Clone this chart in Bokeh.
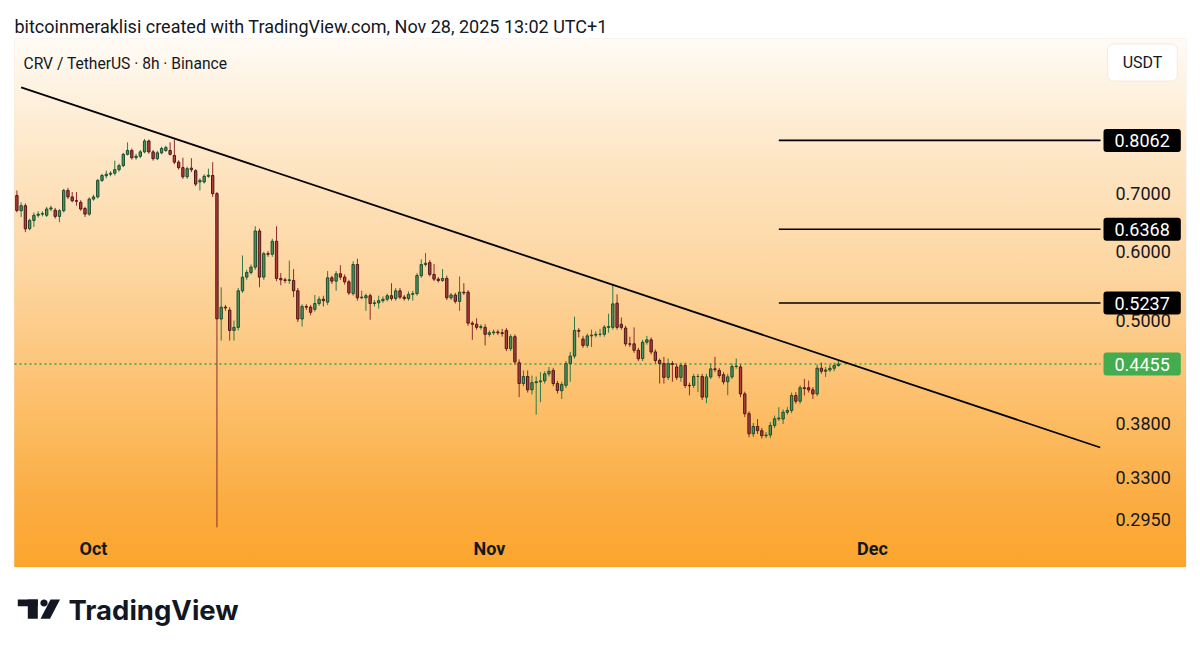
import numpy as np
import pandas as pd
from bokeh.plotting import figure
from bokeh.models import (ColumnDataSource, Range1d, LogScale, Label, BoxAnnotation, PolyAnnotation)
from bokeh.embed import file_html
from bokeh.resources import INLINE

# ---------------- data (CRV/USDT, 8h candles, Binance) ----------------
first_candle = "2025-09-25 00:00"
open_ = [0.6966, 0.669, 0.678, 0.638, 0.652, 0.661, 0.663, 0.661, 0.672, 0.670,
         0.659, 0.669, 0.706, 0.694, 0.687, 0.684, 0.673, 0.663, 0.690, 0.694,
         0.725, 0.734, 0.737, 0.739, 0.746, 0.754, 0.777, 0.785, 0.770, 0.773,
         0.782, 0.805, 0.782, 0.768, 0.780, 0.785, 0.785, 0.7746, 0.761, 0.750,
         0.732, 0.749, 0.744, 0.722, 0.722, 0.733, 0.7345, 0.700, 0.502, 0.518,
         0.514, 0.487, 0.491, 0.541, 0.561, 0.568, 0.576, 0.634, 0.561, 0.597,
         0.596, 0.617, 0.559, 0.557, 0.556, 0.556, 0.541, 0.502, 0.519, 0.518,
         0.515, 0.523, 0.529, 0.525, 0.560, 0.555, 0.566, 0.561, 0.554, 0.537,
         0.580, 0.531, 0.531, 0.534, 0.523, 0.524, 0.527, 0.529, 0.534, 0.530,
         0.541, 0.532, 0.530, 0.536, 0.537, 0.563, 0.580, 0.583, 0.565, 0.558,
         0.556, 0.559, 0.531, 0.535, 0.526, 0.539, 0.539, 0.4965, 0.495, 0.491,
         0.491, 0.482, 0.484, 0.485, 0.484, 0.487, 0.464, 0.479, 0.447, 0.423,
         0.431, 0.416, 0.424, 0.425, 0.426, 0.434, 0.438, 0.423, 0.415, 0.421,
         0.446, 0.455, 0.487, 0.476, 0.468, 0.480, 0.481, 0.482, 0.482, 0.491,
         0.491, 0.5235, 0.495, 0.490, 0.470, 0.470, 0.462, 0.452, 0.472, 0.475,
         0.460, 0.4497, 0.446, 0.430, 0.446, 0.442, 0.430, 0.4437, 0.421, 0.421,
         0.431, 0.431, 0.408, 0.4305, 0.4398, 0.438, 0.433, 0.425, 0.4305, 0.4425,
         0.442, 0.4115, 0.3905, 0.3702, 0.3775, 0.3733, 0.3683, 0.369, 0.3785, 0.3852,
         0.385, 0.392, 0.3938, 0.4098, 0.4036, 0.4183, 0.4183, 0.416, 0.4115, 0.4406,
         0.437, 0.4385, 0.4405, 0.4437]
high = [0.7059, 0.684, 0.682, 0.655, 0.666, 0.668, 0.668, 0.676, 0.678, 0.674,
        0.672, 0.709, 0.711, 0.703, 0.703, 0.688, 0.676, 0.693, 0.698, 0.728,
        0.738, 0.744, 0.743, 0.764, 0.758, 0.780, 0.802, 0.789, 0.778, 0.786,
        0.809, 0.808, 0.786, 0.784, 0.793, 0.795, 0.802, 0.808, 0.765, 0.770,
        0.752, 0.769, 0.747, 0.729, 0.737, 0.748, 0.761, 0.703, 0.546, 0.521,
        0.518, 0.500, 0.545, 0.594, 0.572, 0.580, 0.642, 0.638, 0.600, 0.601,
        0.621, 0.642, 0.567, 0.560, 0.586, 0.573, 0.545, 0.522, 0.522, 0.521,
        0.535, 0.533, 0.534, 0.570, 0.563, 0.570, 0.579, 0.565, 0.557, 0.585,
        0.589, 0.541, 0.537, 0.537, 0.528, 0.534, 0.533, 0.537, 0.552, 0.545,
        0.545, 0.535, 0.540, 0.541, 0.567, 0.588, 0.598, 0.587, 0.581, 0.561,
        0.573, 0.563, 0.538, 0.538, 0.562, 0.552, 0.542, 0.499, 0.503, 0.495,
        0.495, 0.487, 0.488, 0.488, 0.489, 0.490, 0.482, 0.482, 0.451, 0.438,
        0.438, 0.432, 0.431, 0.436, 0.437, 0.442, 0.441, 0.426, 0.425, 0.449,
        0.460, 0.505, 0.490, 0.480, 0.483, 0.488, 0.486, 0.489, 0.494, 0.509,
        0.550, 0.536, 0.504, 0.493, 0.479, 0.491, 0.465, 0.475, 0.480, 0.478,
        0.463, 0.452, 0.454, 0.452, 0.449, 0.446, 0.447, 0.447, 0.424, 0.434,
        0.434, 0.434, 0.434, 0.446, 0.454, 0.441, 0.436, 0.434, 0.446, 0.452,
        0.445, 0.414, 0.393, 0.381, 0.385, 0.376, 0.372, 0.382, 0.3886, 0.3974,
        0.395, 0.3974, 0.413, 0.4135, 0.421, 0.4283, 0.4264, 0.419, 0.445, 0.4472,
        0.442, 0.4445, 0.447, 0.4497]
low = [0.666, 0.658, 0.632, 0.635, 0.641, 0.657, 0.659, 0.658, 0.668, 0.655,
       0.649, 0.666, 0.690, 0.684, 0.678, 0.669, 0.658, 0.660, 0.687, 0.691,
       0.722, 0.729, 0.733, 0.7345, 0.742, 0.751, 0.7746, 0.766, 0.766, 0.769,
       0.779, 0.778, 0.764, 0.765, 0.777, 0.782, 0.7746, 0.757, 0.746, 0.728,
       0.728, 0.741, 0.714, 0.706, 0.719, 0.730, 0.694, 0.2888, 0.474, 0.513,
       0.474, 0.474, 0.487, 0.538, 0.557, 0.565, 0.572, 0.546, 0.557, 0.592,
       0.592, 0.555, 0.549, 0.552, 0.551, 0.532, 0.498, 0.492, 0.514, 0.507,
       0.512, 0.520, 0.519, 0.521, 0.551, 0.541, 0.557, 0.550, 0.535, 0.534,
       0.527, 0.529, 0.513, 0.501, 0.519, 0.516, 0.524, 0.526, 0.527, 0.527,
       0.529, 0.527, 0.527, 0.527, 0.534, 0.560, 0.577, 0.562, 0.555, 0.553,
       0.554, 0.528, 0.528, 0.523, 0.513, 0.535, 0.493, 0.475, 0.488, 0.488,
       0.468, 0.479, 0.481, 0.481, 0.479, 0.461, 0.461, 0.445, 0.408, 0.420,
       0.413, 0.411, 0.3895, 0.4026, 0.423, 0.431, 0.420, 0.412, 0.406, 0.418,
       0.425, 0.452, 0.478, 0.465, 0.465, 0.466, 0.478, 0.479, 0.479, 0.484,
       0.488, 0.488, 0.488, 0.467, 0.466, 0.459, 0.449, 0.449, 0.469, 0.457,
       0.446, 0.423, 0.423, 0.427, 0.425, 0.427, 0.425, 0.418, 0.410, 0.418,
       0.4135, 0.405, 0.4015, 0.428, 0.436, 0.429, 0.422, 0.410, 0.428, 0.440,
       0.408, 0.387, 0.3668, 0.367, 0.370, 0.3655, 0.366, 0.366, 0.376, 0.383,
       0.380, 0.3895, 0.391, 0.401, 0.401, 0.4098, 0.413, 0.406, 0.409, 0.434,
       0.4305, 0.436, 0.437, 0.4425]
close = [0.6694, 0.678, 0.6376, 0.652, 0.661, 0.663, 0.664, 0.672, 0.674, 0.659,
         0.669, 0.706, 0.694, 0.687, 0.686, 0.672, 0.663, 0.690, 0.694, 0.725,
         0.7345, 0.737, 0.739, 0.746, 0.754, 0.777, 0.785, 0.770, 0.773, 0.782,
         0.805, 0.782, 0.768, 0.780, 0.789, 0.791, 0.777, 0.761, 0.750, 0.732,
         0.748, 0.746, 0.718, 0.725, 0.733, 0.735, 0.700, 0.5022, 0.518, 0.517,
         0.487, 0.491, 0.541, 0.561, 0.568, 0.576, 0.634, 0.561, 0.597, 0.596,
         0.617, 0.559, 0.557, 0.556, 0.557, 0.541, 0.502, 0.519, 0.518, 0.511,
         0.523, 0.529, 0.527, 0.560, 0.555, 0.566, 0.561, 0.554, 0.538, 0.580,
         0.531, 0.532, 0.534, 0.523, 0.524, 0.527, 0.529, 0.534, 0.530, 0.541,
         0.532, 0.530, 0.536, 0.537, 0.5634, 0.580, 0.582, 0.565, 0.558, 0.556,
         0.559, 0.531, 0.535, 0.526, 0.539, 0.538, 0.4965, 0.495, 0.491, 0.492,
         0.482, 0.484, 0.485, 0.484, 0.483, 0.464, 0.479, 0.448, 0.423, 0.431,
         0.416, 0.424, 0.425, 0.426, 0.434, 0.437, 0.423, 0.4153, 0.422, 0.446,
         0.455, 0.487, 0.486, 0.468, 0.480, 0.481, 0.482, 0.482, 0.4912, 0.492,
         0.5225, 0.491, 0.491, 0.470, 0.4695, 0.462, 0.4517, 0.472, 0.475, 0.460,
         0.4497, 0.446, 0.430, 0.446, 0.445, 0.430, 0.4437, 0.4208, 0.4205, 0.431,
         0.431, 0.408, 0.4305, 0.4398, 0.439, 0.432, 0.425, 0.4305, 0.4425, 0.443,
         0.4115, 0.3905, 0.3702, 0.3775, 0.3733, 0.3683, 0.369, 0.3785, 0.3852, 0.386,
         0.392, 0.3938, 0.4098, 0.4036, 0.4183, 0.4175, 0.416, 0.4115, 0.4406, 0.437,
         0.4385, 0.4405, 0.4437, 0.4455]

price_ticks = [0.7, 0.6, 0.5, 0.38, 0.33, 0.295]
price_tick_labels = ["0.7000", "0.6000", "0.5000", "0.3800", "0.3300", "0.2950"]
month_ticks = ["2025-10-01", "2025-11-01", "2025-12-01"]
month_labels = ["Oct", "Nov", "Dec"]
levels = [0.8062, 0.6368, 0.5237]
level_labels = ["0.8062", "0.6368", "0.5237"]
level_start = "2025-11-23 16:00"
last_price = 0.4455
last_price_label = "0.4455"
trend_dates = ["2025-09-25 08:00", "2025-12-18 20:00"]
trend_prices = [0.928, 0.357]

title_text = "bitcoinmeraklisi created with TradingView.com, Nov 28, 2025 13:02 UTC+1"
symbol_text = "CRV / TetherUS \u00b7 8h \u00b7 Binance"
currency_text = "USDT"
brand_text = "TradingView"

# ---------------- layout constants (time / price extents of the canvas) ----------------
view_start = pd.Timestamp("2025-09-23 17:13")   # left edge of canvas
view_end = pd.Timestamp("2025-12-26 16:29")     # right edge of canvas
pane_start = pd.Timestamp("2025-09-24 19:32")   # left edge of price pane
pane_end = pd.Timestamp("2025-12-18 20:34")     # where the price scale begins
price_top, price_bottom = 1.16844, 0.207255     # top / bottom of canvas

W, H = 1200, 652
INK = "#131722"
FONT = "Roboto"

times = pd.date_range(first_candle, periods=len(close), freq="8h")
df = pd.DataFrame(dict(t=times, o=open_, h=high, l=low, c=close))
df["top"] = df[["o", "c"]].max(axis=1)
df["bot"] = df[["o", "c"]].min(axis=1)
up = df["c"] >= df["o"]
df["body"] = np.where(up, "#4c9663", "#b03f3e")
df["edge"] = np.where(up, "#1d4a2a", "#4d1616")
df["wick"] = np.where(up, "#2f7a45", "#8e2c2c")
src = ColumnDataSource(df)

gradient = ("linear-gradient(180deg, #fffbf5 0%, #fef0dc 12%, #fde5c3 24%, #fdd9a8 40%, "
            "#fccb88 56%, #fcbc63 72%, #fbae45 86%, #fba52c 100%)")

p = figure(width=W, height=H, x_axis_type="datetime", y_axis_type="log",
           x_axis_location=None, y_axis_location=None, title=None,
           x_range=Range1d(view_start, view_end), y_range=Range1d(price_bottom, price_top),
           output_backend="svg", toolbar_location=None, min_border=0,
           styles={"background-image": gradient,
                   "background-size": "1172px 529px",
                   "background-position": "14px 38px",
                   "background-repeat": "no-repeat"})
p.y_scale = LogScale()
p.border_fill_alpha = 0
p.background_fill_alpha = 0
p.outline_line_color = None
p.grid.visible = False

# faint frame around the chart panel
p.add_layout(BoxAnnotation(left=14, right=1186, top=H - 38, bottom=H - 567,
                           left_units="screen", right_units="screen",
                           top_units="screen", bottom_units="screen",
                           fill_alpha=0, line_color="#ece6dd", line_width=1, level="underlay"))

# last price dotted line
p.segment(x0=[pane_start], y0=[last_price], x1=[pane_end], y1=[last_price],
          line_color="#3f9e4c", line_dash="2 3", line_width=1.4)

# candles
p.segment(x0="t", y0="h", x1="t", y1="l", line_color="wick", line_width=1, source=src)
p.vbar(x="t", top="top", bottom="bot", width=8 * 3600 * 1000 * 0.55,
       fill_color="body", line_color="edge", line_width=1, source=src)

# horizontal target levels and trend line
p.segment(x0=[pd.Timestamp(level_start)] * len(levels), y0=levels,
          x1=[pane_end] * len(levels), y1=levels, line_color="#000000", line_width=1.6)
p.line(x=pd.to_datetime(trend_dates), y=trend_prices, line_color="#000000", line_width=1.8)

# price scale
for pt, txt in zip(price_ticks, price_tick_labels):
    p.add_layout(Label(x=1115, y=pt, x_units="screen", y_units="data", text=txt,
                       text_font=FONT, text_font_size="18px", text_color=INK,
                       text_align="left", text_baseline="middle"))
for lv, txt in zip(levels, level_labels):
    p.add_layout(Label(x=1103, y=lv, x_units="screen", y_units="data", text=txt,
                       text_font=FONT, text_font_size="18px", text_color="#ffffff",
                       text_align="left", text_baseline="middle",
                       background_fill_color="#000000", border_radius=3, padding=(11, 5)))
p.add_layout(Label(x=1103, y=last_price, x_units="screen", y_units="data", text=last_price_label,
                   text_font=FONT, text_font_size="18px", text_color="#ffffff",
                   text_align="left", text_baseline="middle",
                   background_fill_color="#43ac4e", border_radius=3, padding=(11, 5)))

# time scale
for mt, txt in zip(month_ticks, month_labels):
    p.add_layout(Label(x=pd.Timestamp(mt), y=H - 548, x_units="data", y_units="screen", text=txt,
                       text_font=FONT, text_font_size="18px", text_font_style="bold",
                       text_color=INK, text_align="center", text_baseline="middle"))

# header texts
p.add_layout(Label(x=14, y=H - 26, x_units="screen", y_units="screen", text=title_text,
                   text_font=FONT, text_font_size="18px", text_color=INK,
                   text_align="left", text_baseline="middle"))
p.add_layout(Label(x=23, y=H - 63, x_units="screen", y_units="screen", text=symbol_text,
                   text_font=FONT, text_font_size="15.6px", text_color=INK,
                   text_align="left", text_baseline="middle"))
p.add_layout(Label(x=1142, y=H - 62, x_units="screen", y_units="screen", text=currency_text,
                   text_font=FONT, text_font_size="16px", text_color=INK,
                   text_align="center", text_baseline="middle",
                   background_fill_color="#ffffff", border_line_color="#f1ebe2",
                   border_radius=6, padding=(15, 9)))

# TradingView logo (below the chart)
scr = dict(left_units="screen", right_units="screen", top_units="screen", bottom_units="screen",
           fill_color=INK, fill_alpha=1, line_color=None)
p.add_layout(BoxAnnotation(left=17.3, right=37.3, top=H - 599, bottom=H - 605.7, **scr))
p.add_layout(BoxAnnotation(left=27.3, right=37.3, top=H - 599, bottom=H - 618.3, **scr))
ang = np.linspace(0, 2 * np.pi, 16, endpoint=False)
p.add_layout(PolyAnnotation(xs=list(43.5 + 3.6 * np.cos(ang)), ys=list(H - 602.5 + 3.6 * np.sin(ang)),
                            xs_units="screen", ys_units="screen",
                            fill_color=INK, fill_alpha=1, line_color=None))
p.add_layout(PolyAnnotation(xs=[50.0, 59.5, 49.5, 40.0], ys=[H - 599, H - 599, H - 618.3, H - 618.3],
                            xs_units="screen", ys_units="screen",
                            fill_color=INK, fill_alpha=1, line_color=None))
p.add_layout(Label(x=68, y=H - 609, x_units="screen", y_units="screen", text=brand_text,
                   text_font="Inter", text_font_size="27.5px", text_font_style="bold",
                   text_color=INK, text_align="left", text_baseline="middle"))

open("out.html", "w").write(file_html(p, INLINE))
